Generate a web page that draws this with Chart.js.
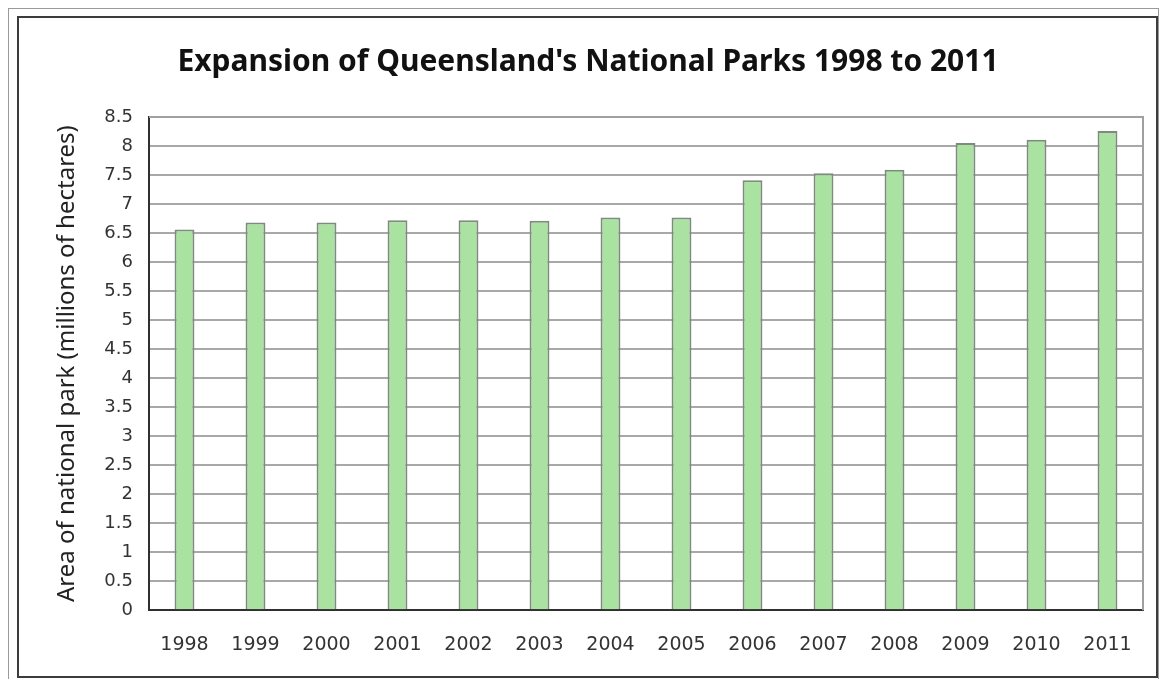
<!DOCTYPE html>
<html>
<head>
<meta charset="utf-8">
<script src="https://cdn.jsdelivr.net/npm/chart.js@4"></script>
<style>
    body { margin: 0; background: #fff; }
    #wrap { position: relative; width: 1165px; height: 679px; overflow: hidden; }
    #chart { position: absolute; left: 0; top: 0; }
    .frame-outer { position: absolute; left: 8px; top: 8px; width: 1151px; height: 700px; border: 1px solid #9a9a9a; box-sizing: border-box; pointer-events: none; }
    .frame-inner { position: absolute; left: 17px; top: 16px; width: 1141px; height: 662px; border: 2px solid #3c3c3c; box-sizing: border-box; pointer-events: none; }
</style>
</head>
<body>
<div id="wrap">
    <canvas id="chart" width="1165" height="679"></canvas>
    <div class="frame-outer"></div>
    <div class="frame-inner"></div>
</div>
<script>
const years = ['1998', '1999', '2000', '2001', '2002', '2003', '2004', '2005', '2006', '2007', '2008', '2009', '2010', '2011']
const areaMillionHa = [6.56, 6.68, 6.68, 6.72, 6.72, 6.71, 6.77, 6.77, 7.41, 7.53, 7.59, 8.05, 8.11, 8.26]
const yMin = 0
const yMax = 8.5
const yStep = 0.5

// gray border on the right and top of the plot area
const plotFrame = {
    id: 'plotFrame',
    afterDatasetsDraw(chart) {
        const { ctx, chartArea } = chart
        ctx.save()
        ctx.strokeStyle = '#a0a0a0'
        ctx.lineWidth = 2
        ctx.beginPath()
        ctx.moveTo(chartArea.left, chartArea.top)
        ctx.lineTo(chartArea.right, chartArea.top)
        ctx.lineTo(chartArea.right, chartArea.bottom)
        ctx.stroke()
        ctx.restore()
    }
}

const data = {
    labels: years,
    datasets: [{
        label: 'Area of national park',
        data: areaMillionHa,
        backgroundColor: '#a9e2a1',
        borderColor: '#7e8b7e',
        borderWidth: 2,
        barPercentage: 0.56,
        categoryPercentage: 0.5
    }]
}

const config = {
    type: 'bar',
    data: data,
    plugins: [plotFrame],
    options: {
        responsive: false,
        animation: false,
        layout: {
            // left padding shifts the title centre to where it sits in the original
            padding: { left: 33, right: 22, top: 0, bottom: 0 }
        },
        plugins: {
            legend: { display: false },
            tooltip: { enabled: false },
            title: {
                display: true,
                text: "Expansion of Queensland's National Parks 1998 to 2011",
                color: '#111',
                font: { family: 'Noto Sans', size: 30, weight: 'bold' },
                padding: { top: 44, bottom: 37 }
            }
        },
        scales: {
            x: {
                grid: { display: false, drawTicks: false },
                border: { color: '#303030', width: 2 },
                ticks: {
                    color: '#333',
                    font: { family: 'DejaVu Sans', size: 19 },
                    padding: 23,
                    maxRotation: 0
                }
            },
            y: {
                min: yMin,
                max: yMax,
                afterFit(scale) { scale.width = 116 },
                grid: { color: '#a8a8a8', lineWidth: 2, drawTicks: false },
                border: { color: '#303030', width: 2 },
                ticks: {
                    stepSize: yStep,
                    color: '#333',
                    font: { family: 'DejaVu Sans', size: 18 },
                    padding: 16,
                    callback: v => String(v)
                },
                title: {
                    display: true,
                    text: 'Area of national park (millions of hectares)',
                    color: '#222',
                    font: { family: 'Noto Sans', size: 24 },
                    padding: { top: 20, bottom: 0 }
                }
            }
        }
    }
}

const myChart = new Chart(document.getElementById('chart'), config)
</script>
</body>
</html>
